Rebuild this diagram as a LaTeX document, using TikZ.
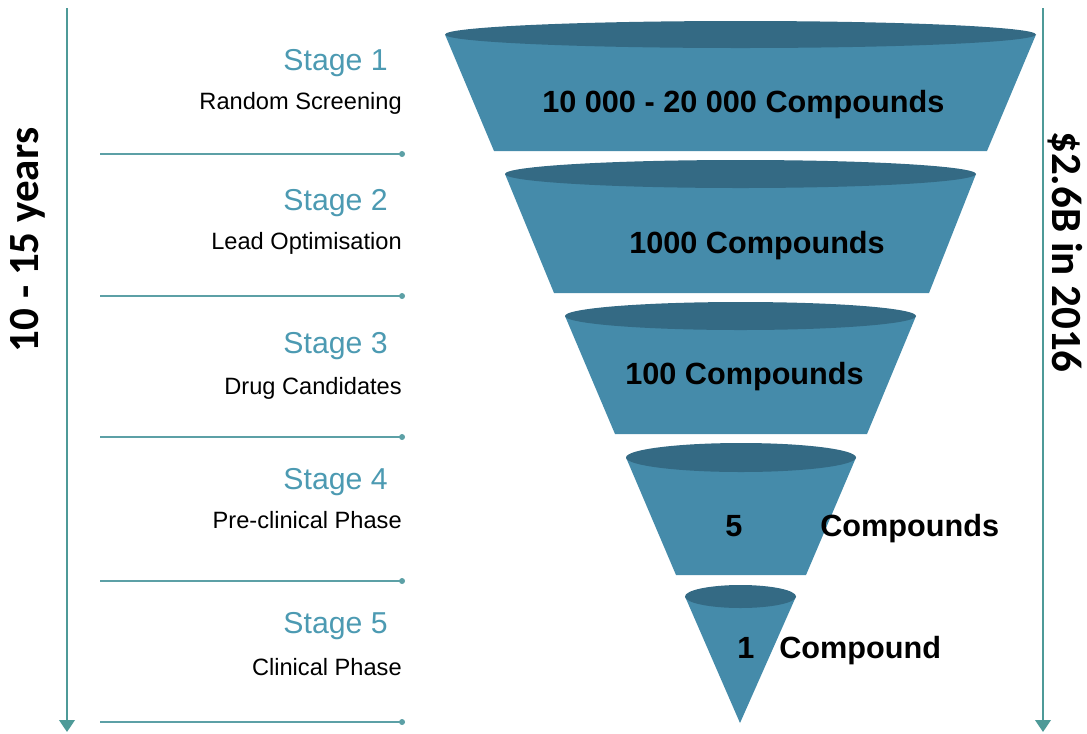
\documentclass[tikz,border=0pt]{standalone}
\usepackage{fontspec}
\setmainfont{Liberation Sans}
\newfontfamily\calib{Carlito}
\usepackage{xcolor}
\definecolor{Funnel-body}{RGB}{69, 139, 170}
\definecolor{Funnel-rim}{RGB}{52, 106, 132}
\definecolor{Stage-blue}{RGB}{76, 154, 178}
\definecolor{Line-teal}{RGB}{92, 160, 166}
\definecolor{Arrow-teal}{RGB}{78, 154, 152}
\usetikzlibrary{arrows.meta,positioning}

\begin{document}
\begin{tikzpicture} [ % styles
            x=0.025cm, y=-0.025cm,
            stagelbl/.style = {anchor=base east, inner sep=0pt, text=Stage-blue, font=\fontsize{21.5}{24}\selectfont},
            phaselbl/.style = {anchor=base east, inner sep=0pt, font=\fontsize{16.8}{19}\selectfont},
            cntlbl/.style = {anchor=base west, inner sep=0pt, font=\bfseries\fontsize{21.8}{24}\selectfont},
            sidelbl/.style = {inner sep=0pt, font=\calib\bfseries\fontsize{30.6}{34}\selectfont},
            sepline/.style = {Line-teal, line width=0.9pt, -{Circle[length=4.2pt]}},
            timeline/.style = {Arrow-teal, line width=1.6pt, -{Triangle[length=8.5pt,width=11pt]}},
            cone/.style = {fill=Funnel-body},
            rim/.style = {fill=Funnel-rim}
        ]

        \useasboundingbox (0,0) rectangle (1087,733);

        % funnel
        \fill [cone] (445,34.5) -- (494,151) -- (987,151) -- (1036,34.5) -- cycle;
        \fill [rim] (740.5,34.5) ellipse [x radius=295.5, y radius=13.5];
        \fill [cone] (505,174) -- (554,293) -- (929,293) -- (976,174) -- cycle;
        \fill [rim] (740.5,174) ellipse [x radius=235.5, y radius=14];
        \fill [cone] (565,316) -- (615,434) -- (867,434) -- (916,316) -- cycle;
        \fill [rim] (740.5,316) ellipse [x radius=175.5, y radius=14];
        \fill [cone] (626,457.5) -- (676,575) -- (806,575) -- (856,457.5) -- cycle;
        \fill [rim] (741,457.5) ellipse [x radius=115, y radius=14.5];
        \fill [cone] (685,596.5) -- (740,723) -- (796,596.5) -- cycle;
        \fill [rim] (740.5,596.5) ellipse [x radius=55.5, y radius=11.5];

        % funnel texts
        \node [cntlbl] (cnt1) at (542,112) {10 000 - 20 000 Compounds};
        \node [cntlbl] (cnt2) at (629,253) {1000 Compounds};
        \node [cntlbl] (cnt3) at (625,384) {100 Compounds};
        \node [cntlbl] (cnt4) at (725,536) {5};
        \node [cntlbl] (cnt4b) at (820,536) {Compounds};
        \node [cntlbl] (cnt5) at (737,658) {1};
        \node [cntlbl] (cnt5b) at (779,658) {Compound};

        % stages
        \node [stagelbl] (st1) at (388,70) {Stage 1};
        \node [phaselbl] (ph1) at (402,109) {Random Screening};
        \node [stagelbl] (st2) at (388,210) {Stage 2};
        \node [phaselbl] (ph2) at (402,249) {Lead Optimisation};
        \node [stagelbl] (st3) at (388,353) {Stage 3};
        \node [phaselbl] (ph3) at (402,394) {Drug Candidates};
        \node [stagelbl] (st4) at (388,489) {Stage 4};
        \node [phaselbl] (ph4) at (402,528) {Pre-clinical Phase};
        \node [stagelbl] (st5) at (388,633) {Stage 5};
        \node [phaselbl] (ph5) at (402,675) {Clinical Phase};

        % separators
        \coordinate (sepL1) at (100,154); \coordinate (sepR1) at (405,154);
        \coordinate (sepL2) at (100,296); \coordinate (sepR2) at (405,296);
        \coordinate (sepL3) at (100,437); \coordinate (sepR3) at (405,437);
        \coordinate (sepL4) at (100,581); \coordinate (sepR4) at (405,581);
        \coordinate (sepL5) at (100,722); \coordinate (sepR5) at (405,722);
        \draw [sepline] (sepL1) -- (sepR1);
        \draw [sepline] (sepL2) -- (sepR2);
        \draw [sepline] (sepL3) -- (sepR3);
        \draw [sepline] (sepL4) -- (sepR4);
        \draw [sepline] (sepL5) -- (sepR5);

        % side arrows
        \coordinate (ltop) at (67,8);
        \coordinate (lbot) at (67,732);
        \coordinate (rtop) at (1043,8);
        \coordinate (rbot) at (1043,732);
        \draw [timeline] (ltop) -- (lbot);
        \draw [timeline] (rtop) -- (rbot);

        \node [sidelbl, rotate=90] (years) at (28,240) {10 - 15 years};
        \node [sidelbl, rotate=-90] (cost) at (1065,252) {\$2.6B in 2016};

    \end{tikzpicture}
\end{document}
